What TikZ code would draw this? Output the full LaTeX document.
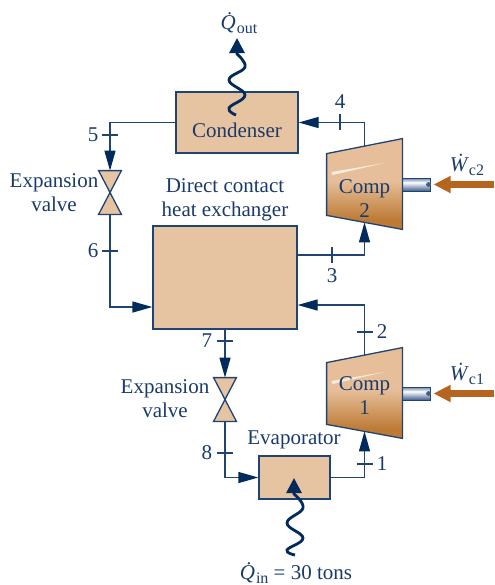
\documentclass[tikz,border=0pt]{standalone}
\usepackage{fontspec}
\setmainfont{Liberation Serif}
\usetikzlibrary{arrows.meta, positioning, calc}

\definecolor{navy}{HTML}{002B5C}
\definecolor{pipeblue}{HTML}{1F4373}
\definecolor{inkblue}{HTML}{1A3A6A}
\definecolor{tan}{HTML}{E6C3A1}
\definecolor{workbrown}{HTML}{B5651D}
\definecolor{compdark}{HTML}{BD7A35}
\definecolor{complight}{HTML}{E6BF9A}
\definecolor{compmid}{HTML}{C98C52}
\definecolor{shaftdark}{HTML}{3F5C8C}

\pgfdeclareverticalshading{compshade}{100bp}{color(0bp)=(compmid); color(22bp)=(compdark); color(30bp)=(compdark); color(52bp)=(complight); color(72bp)=(complight); color(100bp)=(compmid)}
\pgfdeclareverticalshading{shaftshade}{100bp}{color(0bp)=(shaftdark); color(25bp)=(shaftdark); color(58bp)=(white); color(80bp)=(shaftdark); color(100bp)=(shaftdark)}

\newcommand{\dotted}[1]{\textit{\.{#1}}}
\newcommand{\subtext}[1]{\raisebox{-0.35ex}{\fontsize{8}{9}\selectfont #1}}

\begin{document}
\begin{tikzpicture}[x=0.5pt, y=-0.5pt, font=\fontsize{10.5}{12}\selectfont, text=inkblue]
  % Styles
  \tikzstyle{box} = [rectangle, draw=pipeblue, line width=0.65pt, fill=tan, inner sep=0pt]
  \tikzstyle{pipe} = [draw=pipeblue, line width=0.65pt]
  \tikzstyle{arrowpipe} = [pipe, -{Triangle[length=10pt, width=5.5pt, color=navy]}]
  \tikzstyle{tick} = [draw=pipeblue, line width=0.55pt]
  \tikzstyle{valve} = [rectangle, inner sep=0pt, minimum width=11pt, minimum height=21.5pt]
  \tikzstyle{comp} = [rectangle, inner sep=0pt, minimum width=37.5pt, minimum height=45pt]
  \tikzstyle{shaft} = [rectangle, inner sep=0pt, minimum width=14pt, minimum height=6.5pt, draw=pipeblue, line width=0.5pt, shading=shaftshade]
  \tikzstyle{work} = [draw=workbrown, line width=3.5pt, -{Triangle[length=8.5pt, width=8pt, color=workbrown]}]
  \tikzstyle{heat} = [draw=navy, line width=1.4pt, -{Triangle[length=7.5pt, width=7.5pt, color=navy]}]

  \useasboundingbox (0,0) rectangle (494,585);

  % Components
  \node[box, minimum width=61pt, minimum height=30.5pt] (cond) at (237,122.5) {};
  \node[box, minimum width=72pt, minimum height=51.5pt] (hx) at (225,277.5) {};
  \node[box, minimum width=35.5pt, minimum height=21.5pt] (evap) at (294.5,477.5) {};
  \node[valve] (valveA) at (110,192.5) {};
  \node[valve] (valveB) at (225,399.5) {};
  \node[comp] (compB) at (364.5,184) {};
  \node[comp] (compA) at (364.5,393) {};
  \node[shaft] (shaftB) at (416,184.5) {};
  \node[shaft] (shaftA) at (416,393.5) {};

  % Pipes
  \draw[arrowpipe] (cond.west) -| (valveA.north);
  \draw[arrowpipe] (valveA.south) |- ($(hx.west)+(0,29.5)$);
  \draw[arrowpipe] (hx.south) -- (valveB.north);
  \draw[arrowpipe] (valveB.south) |- (evap.west);
  \draw[arrowpipe] (evap.east) -| ($(compA.south)+(0,-7)$);
  \draw[arrowpipe] ($(compA.north)+(0,10)$) |- ($(hx.east)+(0,27.5)$);
  \draw[arrowpipe] ($(hx.east)+(0,-22.5)$) -| ($(compB.south)+(0,-7)$);
  \draw[arrowpipe] ($(compB.north)+(0,10)$) |- (cond.east);

  % Valves
  \draw[box] (valveA.north west) -- (valveA.north east) -- (valveA.south west) -- (valveA.south east) -- cycle;
  \draw[box] (valveB.north west) -- (valveB.north east) -- (valveB.south west) -- (valveB.south east) -- cycle;

  % Compressors
  \path[shading=compshade] (compB.north east) -- (compB.south east) -- ($(compB.south west)+(0,-14)$) -- ($(compB.north west)+(0,15)$) -- cycle;
  \draw[pipe] (compB.north east) -- (compB.south east) -- ($(compB.south west)+(0,-14)$) -- ($(compB.north west)+(0,15)$) -- cycle;
  \fill[white, opacity=0.7] ($(compB.center)+(-33,-12)$) -- ($(compB.center)+(20,-21)$) -- ($(compB.center)+(-32,-9)$) -- cycle;
  \path[shading=compshade] (compA.north east) -- (compA.south east) -- ($(compA.south west)+(0,-14)$) -- ($(compA.north west)+(0,15)$) -- cycle;
  \draw[pipe] (compA.north east) -- (compA.south east) -- ($(compA.south west)+(0,-14)$) -- ($(compA.north west)+(0,15)$) -- cycle;
  \fill[white, opacity=0.7] ($(compA.center)+(-33,-12)$) -- ($(compA.center)+(20,-21)$) -- ($(compA.center)+(-32,-9)$) -- cycle;
  \fill[shaftdark] ($(shaftB.east)+(-2,0)$) circle (1.2pt);
  \fill[shaftdark] ($(shaftA.east)+(-2,0)$) circle (1.2pt);

  % Work input
  \coordinate (workB) at (494,184.5);
  \coordinate (workA) at (494,393.5);
  \draw[work] (workB) -- ($(shaftB.east)+(3,0)$);
  \draw[work] (workA) -- ($(shaftA.east)+(3,0)$);

  % Heat flows
  \draw[heat] plot[smooth, tension=0.7] coordinates {(236,115) (229,108) (245,95) (229,80) (245,67) (237,54)} -- (237,38);
  \draw[heat] plot[smooth, tension=0.7] coordinates {(295,555) (287,550) (303,538) (287,523) (303,508) (294,494)} -- (294,478);

  % Ticks
  \draw[tick] (102,135) -- (118,135);
  \draw[tick] (102,251) -- (118,251);
  \draw[tick] (217,341) -- (233,341);
  \draw[tick] (217,453) -- (233,453);
  \draw[tick] (357,464) -- (373,464);
  \draw[tick] (357,332) -- (373,332);
  \draw[tick] (332,247) -- (332,263);
  \draw[tick] (340,114) -- (340,130);

  % State numbers
  \node (sOne) at (382,464) {1};
  \node (sTwo) at (382,332) {2};
  \node (sThree) at (332,276) {3};
  \node (sFour) at (340,102) {4};
  \node (sFive) at (93,135) {5};
  \node (sSix) at (93,251) {6};
  \node (sSeven) at (207,341) {7};
  \node (sEight) at (207,453) {8};

  % Labels
  \node (condlabel) at (237,130) {Condenser};
  \node[align=center] (hxlabel) at (225,200) {Direct contact\\heat exchanger};
  \node[align=center] (valveAlabel) at (54,193) {Expansion\\valve};
  \node[align=center] (valveBlabel) at (165,399) {Expansion\\valve};
  \node (evaplabel) at (294,440) {Evaporator};
  \node[align=center] (compBlabel) at ($(compB.center)+(0,14.5)$) {Comp\\2};
  \node[align=center] (compAlabel) at ($(compA.center)+(0,3)$) {Comp\\1};
  \node (qout) at (239,23) {\dotted{Q}\kern-2.5pt\subtext{out}};
  \node (qin) at (296,573) {\dotted{Q}\kern-2.5pt\subtext{in} = 30 tons};
  \node (wcb) at (467,165) {\dotted{W}\subtext{c2}};
  \node (wca) at (467,374) {\dotted{W}\subtext{c1}};

\end{tikzpicture}
\end{document}
